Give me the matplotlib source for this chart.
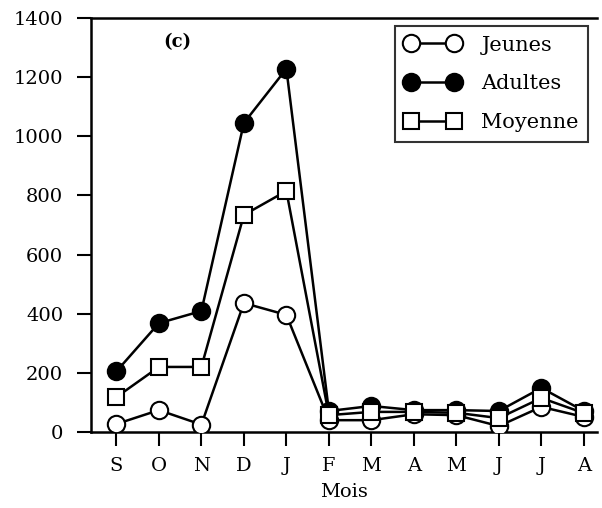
import matplotlib.pyplot as plt
from matplotlib.ticker import MultipleLocator

mois = ['S', 'O', 'N', 'D', 'J', 'F', 'M', 'A', 'M', 'J', 'J', 'A']
jeunes = [27, 74, 25, 436, 396, 40, 40, 60, 57, 20, 85, 51]
adultes = [205, 368, 409, 1045, 1228, 71, 88, 74, 74, 71, 149, 71]
moyenne = [118, 220, 220, 734, 815, 57, 68, 68, 65, 47, 115, 64]

plt.rcParams['font.family'] = ['DejaVu Serif']

fig = plt.figure(figsize=(6.02, 5.08), dpi=100)
ax = fig.add_axes([0.151, 0.1496, 0.84, 0.8150])

x = list(range(len(mois)))
ms = 12.5
ax.plot(x, jeunes, '-o', color='black', lw=1.8, ms=ms, mfc='white', mec='black', mew=1.5,
        label='Jeunes', zorder=3)
ax.plot(x, adultes, '-o', color='black', lw=1.8, ms=ms, mfc='black', mec='black', mew=1.5,
        label='Adultes', zorder=2)
ax.plot(x, moyenne, '-s', color='black', lw=1.8, ms=ms - 0.5, mfc='white', mec='black', mew=1.5,
        label='Moyenne', zorder=4)

ax.set_xlim(-0.6, 11.3)
ax.set_ylim(0, 1400)
ax.yaxis.set_major_locator(MultipleLocator(200))
ax.set_xticks(x)
ax.set_xticklabels(mois)
ax.set_xlabel('Mois', fontsize=14, labelpad=6)

for s in ['left', 'top', 'bottom']:
    ax.spines[s].set_linewidth(1.8)
ax.spines['right'].set_visible(False)
ax.tick_params(axis='y', direction='out', length=10, width=1.5, labelsize=14, pad=10)
ax.tick_params(axis='x', direction='out', length=10, width=1.5, labelsize=14, pad=8)

ax.text(1.1, 1300, '(c)', fontsize=13, fontweight='bold')

leg = ax.legend(loc='upper right', numpoints=2, fontsize=15, frameon=True, fancybox=False,
                edgecolor='black', handlelength=2.7, borderpad=0.45, labelspacing=0.95,
                handletextpad=1.0, borderaxespad=0.4)
leg.get_frame().set_linewidth(1.5)

fig.savefig('out.png', dpi=100)
